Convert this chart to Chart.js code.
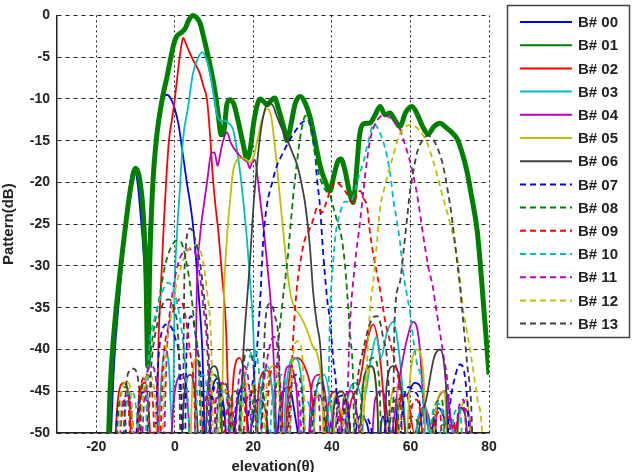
<!DOCTYPE html>
<html>
<head>
<meta charset="utf-8">
<script src="https://cdn.jsdelivr.net/npm/chart.js@4/dist/chart.umd.min.js"></script>
<style>
html,body{margin:0;padding:0;background:#fff;}
</style>
</head>
<body>
<canvas id="chart" width="635" height="472"></canvas>
<script>
// beam names, colours and tick values
const beamNames = ['B# 00','B# 01','B# 02','B# 03','B# 04','B# 05','B# 06','B# 07','B# 08','B# 09','B# 10','B# 11','B# 12','B# 13'];
const beamColors = ['#0000ff','#008000','#ff0000','#00bfbf','#bf00bf','#bfbf00','#404040','#0000ff','#008000','#ff0000','#00bfbf','#bf00bf','#bfbf00','#404040'];
const xTicks = [-20, 0, 20, 40, 60, 80];
const yTicks = [0, -5, -10, -15, -20, -25, -30, -35, -40, -45, -50];

// [elevation, dB]
const b00 = [[-17,-60],[-15.5,-42],[-14,-33],[-12.5,-25],[-11,-19],[-10.3,-18.5],[-9.5,-20],[-8.5,-25],[-7.3,-31],[-6.5,-26],[-5.5,-18],[-4.5,-13],[-3.5,-10.5],[-2,-9.5],[-1,-10],[0,-11.2],[1,-13.2],[2,-16.5],[3,-19.8],[4.4,-24.2],[5.2,-28],[6,-33],[7,-40],[8,-55],[9.5,-45],[11,-43.5],[12.5,-47],[14,-55],[16,-46],[17.5,-44.5],[19,-50],[21,-46],[23,-47],[25,-55],[27,-46],[29,-44.5],[31,-49],[33,-55],[35,-47],[37,-45.5],[39,-50],[41,-46],[43,-45.5],[45,-52],[47,-48],[49,-49],[51,-55],[53,-48],[55,-55],[57,-46],[59,-45.5],[61,-44],[63,-45],[65,-50],[67,-47],[69,-49],[71,-55]];
const b01 = [[-17.5,-60],[-16.5,-45],[-15.5,-38],[-14,-31],[-12.5,-25],[-11.2,-20.5],[-10,-18.3],[-9,-19.5],[-8,-24],[-7.3,-32],[-6.9,-42],[-6.4,-30],[-5.8,-22],[-5.3,-18],[-4.5,-14],[-3.8,-11.7],[-3,-9.5],[-2,-7.4],[-1,-5],[-0.3,-3.5],[0.5,-2.5],[1.5,-2.1],[2.6,-1.6],[3.5,-0.6],[4.6,0],[5.6,-0.3],[6.4,-0.9],[7.3,-2.5],[8.2,-4.3],[9.2,-6.5],[10.2,-9],[11,-11.7],[11.8,-14.3],[12.4,-14.2],[13.2,-10.8],[14,-10.1],[15,-10.6],[16.2,-12.8],[17.3,-15.2],[18.4,-17.2],[19.2,-16],[20.2,-12.5],[21.7,-10],[22.6,-10.3],[23.5,-10.7],[24.5,-10.2],[25.4,-9.9],[26.6,-11.5],[27.8,-13.5],[28.6,-15],[29.6,-13],[30.7,-10.5],[32,-9.7],[33.2,-10.5],[34.5,-12.3],[35.7,-15],[37,-18],[38.4,-20],[39.5,-21],[40.5,-19.2],[41.5,-17.5],[42.3,-17.2],[43.3,-18.5],[44.4,-21],[45.4,-22.4],[46.2,-19],[47,-14.5],[48,-13],[49.7,-12.9],[50.7,-12.2],[52.3,-10.9],[53.5,-11.9],[54.8,-11.7],[56,-12.5],[57.3,-13.3],[58.8,-11.6],[60.4,-10.9],[61.7,-11.8],[63,-13.2],[64.5,-14.2],[66,-13.3],[67.5,-12.9],[69,-13.4],[70.5,-14],[71.9,-14.8],[73.2,-16.5],[74.4,-18.7],[75.5,-21.5],[77,-25.8],[78,-31],[79,-37],[80,-43]];
const b02 = [[-16,-60],[-14.5,-46],[-13,-44],[-11.5,-47],[-10.5,-60],[-9,-45],[-7.5,-44],[-6,-52],[-4.8,-60],[-4.2,-40],[-3.7,-34],[-3.2,-29],[-2.7,-24],[-2.1,-19],[-1.5,-15],[-0.7,-12.4],[0,-10],[0.6,-7.5],[1.1,-5.5],[1.6,-3.8],[2.1,-2.7],[3,-3.6],[4.3,-5],[5.4,-6],[6.4,-7],[7.3,-8.5],[8.2,-10.1],[9,-14.5],[9.7,-19.5],[10.4,-23],[11,-25.5],[12,-31],[13,-37],[14,-50],[15,-43],[16.5,-41],[18,-45],[19.5,-60],[21.5,-44],[23.5,-42.5],[25.5,-48],[27,-60],[29,-44],[31,-41],[33,-42],[35,-46],[37,-60],[39,-47],[41,-45],[43,-50],[45,-46],[47,-44],[48.5,-40],[50.5,-37],[52,-40],[53.5,-48],[55,-60],[57,-47],[59,-45.5],[61,-50],[63,-47],[65,-49],[67,-60],[69,-48],[71,-49],[73,-60]];
const b03 = [[-5,-60],[-3.5,-44],[-2.5,-40],[-1.5,-42],[-0.6,-50],[0,-32],[0.5,-26.5],[1.3,-20.7],[2.1,-14.8],[3.4,-10.9],[4.6,-7],[5.8,-5.2],[7,-4.4],[8,-5.2],[9,-7],[10,-9.8],[10.8,-12],[11.6,-12.6],[12.6,-12.6],[13.6,-12.9],[14.8,-13.6],[15.8,-16],[16.8,-19.5],[17.6,-23],[18.4,-27],[19.2,-32],[20,-38],[20.8,-50],[22,-45],[23.5,-42],[25,-46],[26.5,-60],[28.5,-44],[30.5,-41],[32.5,-45],[34,-60],[36,-45],[38,-43],[40,-48],[42,-60],[44,-46],[46,-44],[48,-46],[50,-41],[51.3,-38.5],[52.5,-41],[54,-38],[55.6,-36.7],[57,-40],[58.5,-48],[60,-60],[62,-48],[64,-47],[66,-60],[68,-49],[70,-50.5],[72,-60]];
const b04 = [[-2,-60],[0,-45],[2,-43],[3.5,-48],[4.8,-60],[5.6,-33],[6.4,-26.5],[7.3,-23],[8.2,-20],[9.3,-16.5],[10.1,-16.4],[10.9,-18],[11.6,-16.5],[12.3,-15],[13.3,-14],[14.2,-15.2],[15.5,-16.2],[17.4,-17.2],[18.5,-17.6],[19.1,-18.3],[19.8,-17.4],[20.4,-17.3],[21.1,-19.5],[21.7,-21.9],[22.6,-25.5],[23.5,-29.7],[24.5,-35],[25.5,-45],[26.5,-60],[27.5,-46],[29,-42],[31,-45],[33,-60],[35,-44],[37,-43],[39,-48],[41,-60],[43,-46],[45,-45],[47,-50],[49,-60],[51,-46],[53,-45],[55,-50],[57,-44],[59,-39],[60.7,-36.7],[62.2,-39],[63.5,-48],[65,-60],[67,-46],[69,-45],[71,-50],[73,-47],[75,-48],[76.5,-60]];
const b05 = [[3.5,-60],[4.6,-43],[5.5,-41],[6.5,-45],[7.5,-60],[11.5,-60],[12.5,-34],[13.3,-26.5],[14.2,-21.5],[14.8,-18.7],[15.7,-17.4],[16.6,-17.1],[18,-17.2],[19.2,-17.6],[20,-17],[21,-15],[22,-12.8],[23.5,-11.2],[24.5,-12],[25.2,-14.5],[26,-18],[26.8,-22],[27.6,-25.8],[28.5,-30],[29.5,-33.5],[30.5,-35],[32,-36],[33.5,-37.5],[35,-39.5],[36.5,-41],[37.5,-45],[38.5,-60],[40.5,-46],[42.5,-45],[44.5,-50],[46.5,-60],[48.5,-45],[50,-42],[51.5,-46],[53,-60],[55,-46],[56.5,-44.5],[58,-60],[60,-43],[61.7,-40],[63.3,-43],[64.5,-60],[66.5,-47],[68.5,-45],[70.5,-60],[72.5,-48],[74.5,-46],[76,-60]];
const b06 = [[1,-60],[2.5,-45],[4,-43],[5.5,-47],[7,-60],[8.5,-44],[10,-42],[11.5,-45],[13,-60],[14.5,-48],[15.5,-55],[16.6,-50],[17.5,-40],[18.4,-34],[19.1,-29.7],[20,-23],[20.9,-18],[21.7,-14.5],[22.5,-12.1],[23.7,-10.5],[25,-10.8],[26,-12.1],[27.5,-13.8],[28.9,-15.2],[30,-16.5],[31.2,-18],[32.2,-20],[33.2,-22.6],[34.4,-27.7],[35.2,-33],[36.2,-37],[37,-39.4],[38,-48],[38.8,-60],[40.5,-47],[42.5,-45],[44.5,-49],[46,-60],[48,-44],[50,-42],[51.5,-46],[52.5,-60],[54,-44],[55.5,-42],[57,-43],[58.5,-49],[60,-60],[62,-50],[64,-46],[66,-41],[67.5,-40],[69,-44],[70.5,-60],[72.5,-47],[74,-48],[75.5,-60]];
const b07 = [[-16,-60],[-14.5,-47],[-13,-46],[-11.5,-60],[-9,-46],[-7.5,-45],[-6,-60],[-4,-40],[-2,-37],[0,-38.5],[1.5,-44],[2.3,-60],[3,-40],[4.2,-36],[5.5,-39],[7,-46],[8,-60],[9.5,-46],[11,-44],[12.5,-49],[13.5,-60],[15.5,-47],[17,-45],[18.5,-48],[19.8,-44],[20.9,-40],[21.7,-34.4],[22.5,-27],[23.5,-22.6],[24.8,-20],[26,-18],[27.5,-16.5],[28.9,-15.2],[30.5,-14],[32,-13],[33.9,-12.5],[34.9,-14],[35.7,-16.5],[36.2,-19.5],[37,-23],[37.7,-28],[38.8,-34],[39.5,-36.5],[40.3,-41],[41.3,-46.5],[42,-60],[43,-47],[43.8,-46],[45,-52],[46,-60],[48,-48],[50,-49.5],[52,-60],[54,-48],[56,-60],[58,-47],[59.5,-44.5],[61,-45],[62.5,-47],[64,-60],[66,-48],[68,-60],[70,-47],[71.5,-43],[72.6,-41.8],[73.8,-43],[75,-50],[76,-60]];
const b08 = [[-16,-60],[-14,-46],[-12.5,-44.5],[-11,-48],[-10,-60],[-8.5,-45],[-7,-43],[-5.5,-38],[-4,-34],[-2.5,-30],[-1,-27.8],[0.3,-27],[1.3,-27],[2.5,-28.5],[3.8,-32],[5,-37],[6.2,-43],[7.2,-60],[8.5,-45],[10,-43],[11.5,-47],[12.5,-60],[14,-47],[15.5,-45],[17,-50],[18,-60],[20,-46],[21.5,-44.5],[23,-47],[24.5,-60],[26,-42],[27.5,-34],[28.6,-29.7],[29.5,-25],[30.1,-21.9],[31.2,-17.2],[32.2,-13.8],[33.3,-12],[34.3,-13],[35.3,-15.5],[36.2,-18],[37.2,-19.8],[38.5,-21],[39.5,-21.5],[40.5,-23.2],[41.3,-24.6],[42.3,-26.2],[43.3,-29.7],[44,-34],[44.6,-38],[45.4,-43.8],[46,-60],[47.5,-46],[49,-42],[50.5,-41],[52,-43.5],[53.2,-60],[55,-48],[56.5,-46],[58,-60],[60,-48],[62,-49],[64,-60],[66,-47],[68,-46],[69.5,-60]];
const b09 = [[-15,-60],[-13.5,-48],[-12,-46],[-10.5,-60],[-8.5,-44],[-7,-43],[-5.5,-47],[-4.5,-60],[-3,-42],[-1.5,-37],[0,-35],[1.2,-34],[2.5,-35.5],[3.8,-40],[5,-46],[5.8,-60],[7.5,-47],[9,-45],[10.5,-49],[11.5,-60],[13,-48],[14.5,-46],[16,-60],[18,-47],[19.5,-45],[21,-49],[22,-60],[24,-44],[25.5,-42],[27,-45],[28.5,-60],[30,-40],[31,-33],[31.9,-29.7],[33,-27],[34.4,-25.5],[35.2,-24.5],[36.3,-23],[37.5,-23.6],[38.5,-22.5],[39.5,-21],[41,-20],[42.5,-20.5],[44,-21.5],[45.4,-22.6],[46.3,-21.5],[47.2,-21],[48.2,-22],[49,-23],[49.7,-26],[50.5,-28.5],[51.3,-30.5],[52.5,-33.5],[53.5,-36.4],[55,-39.5],[56.4,-42.3],[57.5,-46],[58.6,-60],[60,-48],[61.5,-46],[63,-50],[64,-60],[66,-49],[67.5,-47.5],[69,-60],[71,-48.5],[72.5,-60]];
const b10 = [[-14,-60],[-12.5,-47],[-11,-45],[-9.5,-49],[-8.5,-60],[-6.5,-40],[-5,-36],[-3.5,-33.5],[-1.7,-32],[-0.2,-33],[1.2,-36],[2.5,-41],[3.5,-48],[4.2,-60],[5.8,-45],[7.2,-43],[8.5,-47],[9.5,-60],[11,-47],[12.5,-45],[14,-49],[15,-60],[17,-46],[18.5,-42],[20,-40],[21.5,-43],[23,-60],[25,-45],[27,-43],[29,-47],[30.5,-60],[32,-48],[33.5,-46],[35,-50],[36,-60],[38.5,-60],[39.5,-36],[40.3,-29.7],[41,-26],[42,-23.8],[43.3,-22.3],[44.6,-22.3],[45.6,-21.5],[46.7,-19.5],[48,-17.6],[49.3,-15],[50.7,-13],[52,-13.8],[53,-15],[54,-16.8],[55,-19.5],[55.6,-21.9],[56.5,-24.5],[57.3,-27],[58.1,-30.5],[59.1,-33.5],[59.9,-35.6],[60.8,-39],[61.7,-41.8],[63.2,-45.8],[64,-60],[65.5,-48],[67,-46.5],[68.5,-49],[69.5,-60],[71,-48],[72.5,-47],[74,-60]];
const b11 = [[-15,-60],[-13.5,-47],[-12,-45.5],[-10.5,-50],[-9.5,-60],[-7.5,-44],[-6,-42],[-4.5,-45],[-3.5,-60],[-2,-40],[-0.5,-33],[1,-29.5],[2.5,-28.2],[4.6,-28],[6,-30],[7.3,-35],[8.5,-43],[9.2,-60],[10.5,-46],[12,-44],[13.5,-47],[14.5,-60],[16,-45],[17.5,-42],[19,-45],[20.5,-60],[22.5,-45],[24,-40],[25.2,-38.5],[26.5,-42],[27.5,-60],[29,-46],[30.5,-44],[32,-48],[33,-60],[35,-47],[36.5,-45.5],[38,-60],[40,-49],[41.5,-47],[43,-60],[44.5,-38],[45.9,-29.7],[47.2,-24.6],[48.5,-19],[49.7,-15],[51,-13],[53,-12],[55,-12.3],[57.3,-13.6],[58.3,-15],[59.9,-17.5],[61.7,-21.5],[63.2,-26.2],[64.5,-30],[65.7,-32.5],[66.5,-35],[67.5,-37.9],[68.5,-41],[69.3,-43.4],[70,-48],[70.7,-60],[72,-48],[73.5,-46],[75,-60]];
const b12 = [[-15,-60],[-13.5,-45],[-12.2,-43.8],[-11,-46],[-10,-60],[-8,-45],[-6.5,-43],[-5,-46],[-4,-60],[-2.5,-42],[-1,-36],[0.5,-32],[2,-29.5],[3.5,-28],[5.6,-27.5],[7,-29],[8.2,-33],[9.3,-40],[10.2,-60],[11.5,-47],[13,-45],[14.5,-49],[15.5,-60],[17.5,-46],[19,-44],[20.5,-47],[21.5,-60],[23.5,-44],[25,-42],[26.5,-45],[28,-60],[30,-41],[31.3,-39],[32.5,-41],[34,-60],[36,-46],[37.5,-45],[39,-60],[41,-48],[42.5,-47],[44,-60],[46,-48],[47.2,-49.6],[48.9,-41.8],[49.7,-35.2],[50.5,-32],[51.5,-27],[52.3,-23],[53.2,-21],[54,-19.5],[55.6,-16.8],[57,-14.5],[58.5,-13.4],[60,-13.1],[61.5,-13.4],[63,-14.2],[64.2,-15.2],[65.5,-17],[66.8,-19.1],[68,-21.3],[69.3,-23.5],[70.8,-26.2],[71.9,-29],[72.7,-32],[73.4,-35.2],[74.4,-37.9],[75.5,-41],[77,-45.8],[78.2,-49.6],[79,-60]];
const b13 = [[-14,-60],[-12,-43],[-10.6,-42.3],[-9,-45],[-8,-60],[-6,-42],[-4.5,-37],[-3,-34.5],[-1.5,-34],[0,-35.5],[1,-40],[1.8,-60],[2.5,-30],[3.9,-25.5],[5,-26.5],[6.2,-29],[7.3,-33],[8.3,-38],[9,-46],[9.6,-60],[11,-46],[12.5,-44],[14,-47],[15,-60],[17,-44],[18.5,-40],[20,-42],[21.5,-60],[23,-37],[24.2,-34.5],[25.5,-36],[26.5,-40],[27.5,-60],[29.5,-45],[31,-43],[32.5,-46],[33.5,-60],[35.5,-46],[37,-44],[38.5,-47],[39.5,-60],[41.5,-47],[43,-46],[44.5,-60],[46.5,-44],[48,-40],[50,-36.5],[51.5,-36],[53,-38.5],[54.5,-45],[55.2,-60],[56,-36],[57.3,-32],[58.3,-28],[59.1,-24.5],[59.9,-21],[60.8,-18.5],[61.7,-16.4],[63,-15],[64.4,-14.4],[65.7,-14.8],[67,-16],[68.3,-18],[69.5,-21],[70.5,-24],[71.5,-28],[72.5,-32],[73.5,-37],[74.5,-42],[75.5,-47],[76.3,-60]];

const beams = [b00,b01,b02,b03,b04,b05,b06,b07,b08,b09,b10,b11,b12,b13];

const datasets = beams.map(function(d, i){
  return {
    label: beamNames[i],
    data: d,
    borderColor: beamColors[i],
    borderWidth: i === 1 ? 5 : 1.8,
    borderDash: i >= 7 ? [6, 4] : [],
    pointRadius: 0,
    fill: false,
    cubicInterpolationMode: 'monotone',
    clip: i === 1 ? {left: 0, top: 3, right: 0, bottom: 0} : 0,
    order: 13 - i
  };
});

// legend drawn in a box on the right, like the matlab one
const legendBox = {
  id: 'legendBox',
  afterDraw(chart) {
    const ctx = chart.ctx;
    ctx.save();
    ctx.fillStyle = '#fff';
    ctx.fillRect(507, 5, 123, 333);
    ctx.strokeStyle = '#444';
    ctx.lineWidth = 1.5;
    ctx.strokeRect(507.5, 5.5, 122, 332);
    ctx.font = 'bold 15px "Liberation Sans", Arial, sans-serif';
    ctx.textBaseline = 'middle';
    for (let i = 0; i < beamNames.length; i++) {
      const y = 22 + i * 23.2;
      ctx.beginPath();
      ctx.strokeStyle = beamColors[i];
      ctx.lineWidth = 2;
      ctx.setLineDash(i >= 7 ? [6, 4] : []);
      ctx.moveTo(520, y);
      ctx.lineTo(572, y);
      ctx.stroke();
      ctx.setLineDash([]);
      ctx.fillStyle = '#222';
      ctx.fillText(beamNames[i], 578, y + 1);
    }
    ctx.restore();
  }
};

const tickFont = {family: '"Liberation Sans", Arial, sans-serif', size: 14, weight: 'bold'};
const titleFont = {family: '"Liberation Sans", Arial, sans-serif', size: 15, weight: 'bold'};

new Chart(document.getElementById('chart'), {
  type: 'line',
  data: {datasets: datasets},
  plugins: [legendBox],
  options: {
    responsive: false,
    animation: false,
    layout: {padding: {left: 0, right: 146, top: 7, bottom: 0}},
    plugins: {legend: {display: false}, tooltip: {enabled: false}},
    scales: {
      x: {
        type: 'linear',
        min: -30,
        max: 80,
        afterBuildTicks: function(scale){ scale.ticks = xTicks.map(v => ({value: v})); },
        afterFit: function(scale){ scale.height = 39; },
        ticks: {font: tickFont, color: '#222', padding: 6, maxRotation: 0, callback: v => String(v)},
        grid: {color: '#222', lineWidth: 1, drawTicks: false},
        border: {display: true, color: '#222', width: 1.5, dash: [2, 3]},
        title: {display: true, text: 'elevation(θ)', font: titleFont, color: '#222', padding: {top: 0, bottom: -4}}
      },
      y: {
        min: -50,
        max: 0,
        afterBuildTicks: function(scale){ scale.ticks = yTicks.map(v => ({value: v})); },
        afterFit: function(scale){ scale.width = 57; },
        ticks: {font: tickFont, color: '#222', padding: 7, callback: v => String(v)},
        grid: {color: '#222', lineWidth: 1, drawTicks: false},
        border: {display: true, color: '#222', width: 1.5, dash: [4, 4]},
        title: {display: true, text: 'Pattern(dB)', font: titleFont, color: '#222', padding: {top: 0, bottom: 0}}
      }
    }
  }
});
</script>
</body>
</html>
